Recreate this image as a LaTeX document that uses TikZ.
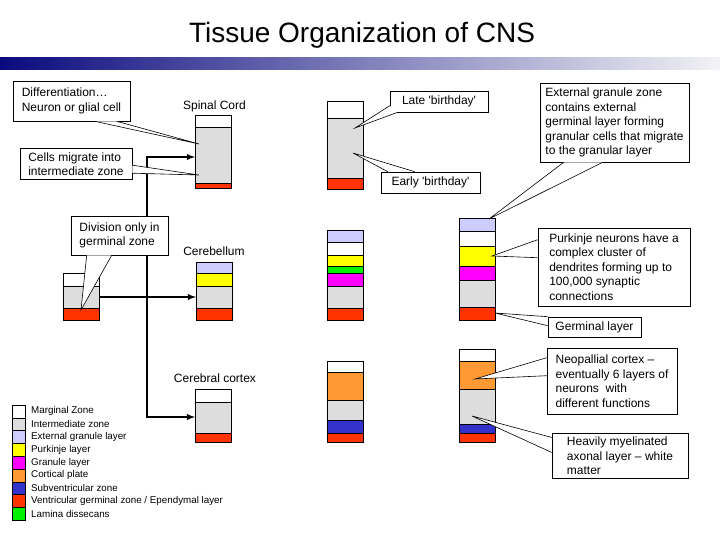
\documentclass[tikz,border=0pt]{standalone}
\usepackage{fontspec}
\setmainfont{Liberation Sans}
\definecolor{greyzone}{HTML}{DDDDDD}
\definecolor{lavender}{HTML}{CCCCFF}
\definecolor{yellowzone}{HTML}{FFFF00}
\definecolor{magentazone}{HTML}{FF00FF}
\definecolor{orangezone}{HTML}{FF9933}
\definecolor{bluezone}{HTML}{3333CC}
\definecolor{redzone}{HTML}{FF3300}
\definecolor{greenzone}{HTML}{00F000}
\definecolor{barleft}{HTML}{0A0A7E}
\definecolor{barright}{HTML}{F2F2F6}
\tikzset{
  layer/.style={draw=black,line width=0.8pt},
  callout/.style={draw=black,line width=0.6pt,fill=white,align=left,font=\fontsize{12}{14.5}\selectfont},
  wedge/.style={draw=black,line width=0.6pt,fill=white},
  flow/.style={line width=1.8pt,-latex},
  heading/.style={font=\fontsize{12}{14}\selectfont},
}
\begin{document}
\begin{tikzpicture}[x=1pt,y=-1pt]
\useasboundingbox (0,0) rectangle (720,540);
\node[font=\fontsize{28}{32}\selectfont] (title) at (362,35) {Tissue Organization of CNS};
\shade[left color=barleft,right color=barright] (0,58) rectangle (720,70);

% spinal cord
\node[heading] (spinal) at (214.5,106) {Spinal Cord};
\foreach \ya/\yb/\c in {115/127/white,127/183/greyzone,183/188/redzone}
  \draw[layer,fill=\c] (195,\ya) rectangle (231,\yb);
\foreach \ya/\yb/\c in {101/118/white,118/178/greyzone,178/189/redzone}
  \draw[layer,fill=\c] (327,\ya) rectangle (363,\yb);

% cerebellum
\node[heading] (cerebellum) at (214,251) {Cerebellum};
\foreach \ya/\yb/\c in {273/286/white,286/308/greyzone,308/320/redzone}
  \draw[layer,fill=\c] (63,\ya) rectangle (99,\yb);
\foreach \ya/\yb/\c in {262/273/lavender,273/286/yellowzone,286/308/greyzone,308/320/redzone}
  \draw[layer,fill=\c] (196,\ya) rectangle (232,\yb);
\foreach \ya/\yb/\c in {230/242/lavender,242/255/white,255/266/yellowzone,266/273/greenzone,273/286/magentazone,286/308/greyzone,308/320/redzone}
  \draw[layer,fill=\c] (327,\ya) rectangle (363,\yb);
\foreach \ya/\yb/\c in {218/231/lavender,231/246/white,246/266/yellowzone,266/280/magentazone,280/307/greyzone,307/320/redzone}
  \draw[layer,fill=\c] (459,\ya) rectangle (495,\yb);

% cerebral cortex
\node[heading] (cortex) at (215,378) {Cerebral cortex};
\foreach \ya/\yb/\c in {389/402/white,402/433/greyzone,433/442/redzone}
  \draw[layer,fill=\c] (195,\ya) rectangle (231,\yb);
\foreach \ya/\yb/\c in {361/372/white,372/400/orangezone,400/420/greyzone,420/433/bluezone,433/442/redzone}
  \draw[layer,fill=\c] (327,\ya) rectangle (363,\yb);
\foreach \ya/\yb/\c in {349/361/white,361/389/orangezone,389/424/greyzone,424/433/bluezone,433/442/redzone}
  \draw[layer,fill=\c] (459,\ya) rectangle (495,\yb);

% arrows
\coordinate (trunktop) at (147,157);
\coordinate (trunkbot) at (147,417);
\coordinate (spinalin) at (195,157);
\coordinate (cortexin) at (195,417);
\coordinate (tubeout) at (99,297);
\coordinate (cerebin) at (196,297);
\draw[flow] (trunkbot) -- (trunktop) -- (spinalin);
\draw[flow] (trunktop) -- (trunkbot) -- (cortexin);
\draw[flow] (tubeout) -- (cerebin);

% callouts
\node[callout,minimum width=117pt,minimum height=40pt] (diff) at (71.5,101) {Differentiation…\\Neuron or glial cell};
\node[callout,minimum width=112pt,minimum height=31pt] (cells) at (76,164) {Cells migrate into\\intermediate zone};
\node[callout,minimum width=97pt,minimum height=39pt] (division) at (119.5,235.5) {Division only in\\germinal zone};
\node[callout,minimum width=98pt,minimum height=21pt] (late) at (439,101.5) {Late \textquotesingle birthday\textquotesingle};
\node[callout,minimum width=99pt,minimum height=21pt] (early) at (430.5,182.5) {Early \textquotesingle birthday\textquotesingle};
\node[callout,minimum width=149pt,minimum height=79pt] (egl) at (614.5,122.5) {External granule zone\\contains external\\germinal layer forming\\granular cells that migrate\\to the granular layer};
\node[callout,minimum width=152pt,minimum height=78pt] (purkinje) at (614,267) {Purkinje neurons have a\\complex cluster of\\dendrites forming up to\\100,000 synaptic\\connections};
\node[callout,minimum width=93pt,minimum height=20pt] (germinal) at (594.5,327) {Germinal layer};
\node[callout,minimum width=130pt,minimum height=66pt] (neo) at (612,381) {Neopallial cortex –\\eventually 6 layers of\\neurons\ \ with\\different functions};
\node[callout,minimum width=136pt,minimum height=44pt] (myelin) at (620,456) {Heavily myelinated\\axonal layer – white\\matter};

\coordinate (difftip) at (199,144);
\coordinate (cellstip) at (199,175);
\coordinate (divtip) at (81,310);
\coordinate (latetip) at (355,128);
\coordinate (earlytip) at (353,153);
\coordinate (egltip) at (489,219);
\coordinate (purktip) at (492,256);
\coordinate (germtip) at (495,313);
\coordinate (neotip) at (475,379);
\coordinate (myelintip) at (472,416);
\draw[wedge] ([xshift=82pt]diff.south west) -- (difftip) -- ([xshift=104pt]diff.south west);
\draw[wedge] ([yshift=-17pt]cells.north east) -- (cellstip) -- ([yshift=-25pt]cells.north east);
\draw[wedge] ([xshift=16pt]division.south west) -- (divtip) -- ([xshift=41pt]division.south west);
\draw[wedge] ([yshift=-15pt]late.north west) -- (latetip) -- ([xshift=8pt]late.south west);
\draw[wedge] ([xshift=7pt]early.north west) -- (earlytip) -- ([xshift=34pt]early.north west);
\draw[wedge] ([xshift=24pt]egl.south west) -- (egltip) -- ([xshift=63pt]egl.south west);
\draw[wedge] ([yshift=-12pt]purkinje.north west) -- (purktip) -- ([yshift=-30pt]purkinje.north west);
\draw[wedge] (germinal.north west) -- (germtip) -- ([yshift=-9pt]germinal.north west);
\draw[wedge] ([yshift=-10pt]neo.north west) -- (neotip) -- ([yshift=-28pt]neo.north west);
\draw[wedge] ([yshift=-4pt]myelin.north west) -- (myelintip) -- ([yshift=-19pt]myelin.north west);

% legend
\foreach \c/\t [count=\i] in {white/{Marginal Zone},greyzone/{Intermediate zone},lavender/{External granule layer},yellowzone/{Purkinje layer},magentazone/{Granule layer},orangezone/{Cortical plate},bluezone/{Subventricular zone},redzone/{Ventricular germinal zone / Ependymal layer},greenzone/{Lamina dissecans}} {
  \draw[line width=0.6pt,fill=\c] (12,{392.2+12.8*\i}) rectangle (25,{405+12.8*\i});
  \node[anchor=west,inner sep=0pt,font=\fontsize{9.8}{11}\selectfont] (key\i) at (31,{398.6+12.8*\i}) {\t};
}
\end{tikzpicture}
\end{document}
